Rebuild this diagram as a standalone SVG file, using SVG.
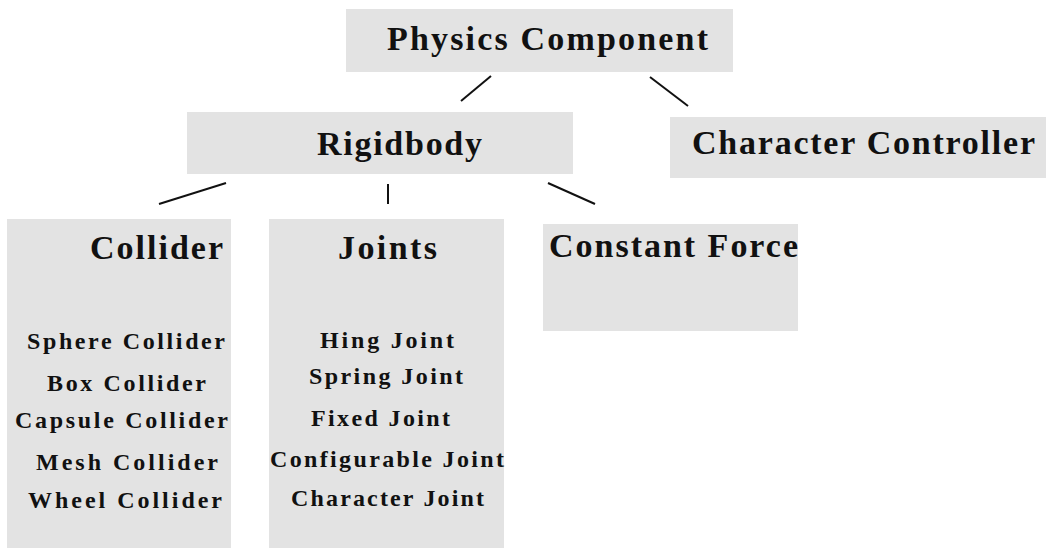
<svg xmlns="http://www.w3.org/2000/svg" width="1046" height="548" viewBox="0 0 1046 548">
<style>
.box{fill:#e3e3e3}
.h{font-family:"Liberation Serif",serif;font-weight:bold;font-size:34px;fill:#111}
.s{font-family:"Liberation Serif",serif;font-weight:bold;font-size:24px;fill:#111}
.c{stroke:#111;stroke-width:2;fill:none}
</style>
<rect width="1046" height="548" fill="#fff"/>
<g id="connectors">
<line class="c" x1="491" y1="76" x2="461" y2="101"/>
<line class="c" x1="650" y1="77" x2="688" y2="106"/>
<line class="c" x1="226" y1="183" x2="159" y2="204"/>
<line class="c" x1="388" y1="184" x2="388" y2="204"/>
<line class="c" x1="548" y1="183" x2="595" y2="204"/>
</g>
<g id="physics-component">
<rect class="box" x="346" y="9" width="387" height="63"/>
<text class="h" x="387" y="50" textLength="321" lengthAdjust="spacing">Physics Component</text>
</g>
<g id="rigidbody">
<rect class="box" x="187" y="112" width="386" height="62"/>
<text class="h" x="317" y="155" textLength="165" lengthAdjust="spacing">Rigidbody</text>
</g>
<g id="character-controller">
<rect class="box" x="670" y="117" width="376" height="61"/>
<text class="h" x="692" y="154" textLength="343" lengthAdjust="spacing">Character Controller</text>
</g>
<g id="collider">
<rect class="box" x="7" y="219" width="224" height="329"/>
<text class="h" x="90" y="259" textLength="133" lengthAdjust="spacing">Collider</text>
<text class="s" x="27" y="349" textLength="198" lengthAdjust="spacing">Sphere Collider</text>
<text class="s" x="47" y="391" textLength="159" lengthAdjust="spacing">Box Collider</text>
<text class="s" x="15" y="428" textLength="213" lengthAdjust="spacing">Capsule Collider</text>
<text class="s" x="36" y="470" textLength="182" lengthAdjust="spacing">Mesh Collider</text>
<text class="s" x="28" y="508" textLength="194" lengthAdjust="spacing">Wheel Collider</text>
</g>
<g id="joints">
<rect class="box" x="269" y="219" width="235" height="329"/>
<text class="h" x="338" y="259" textLength="99" lengthAdjust="spacing">Joints</text>
<text class="s" x="320" y="348" textLength="134" lengthAdjust="spacing">Hing Joint</text>
<text class="s" x="309" y="384" textLength="154" lengthAdjust="spacing">Spring Joint</text>
<text class="s" x="311" y="426" textLength="139" lengthAdjust="spacing">Fixed Joint</text>
<text class="s" x="270" y="467" textLength="234" lengthAdjust="spacing">Configurable Joint</text>
<text class="s" x="291" y="506" textLength="193" lengthAdjust="spacing">Character Joint</text>
</g>
<g id="constant-force">
<rect class="box" x="543" y="224" width="255" height="107"/>
<text class="h" x="549" y="257" textLength="249" lengthAdjust="spacing">Constant Force</text>
</g>
</svg>
